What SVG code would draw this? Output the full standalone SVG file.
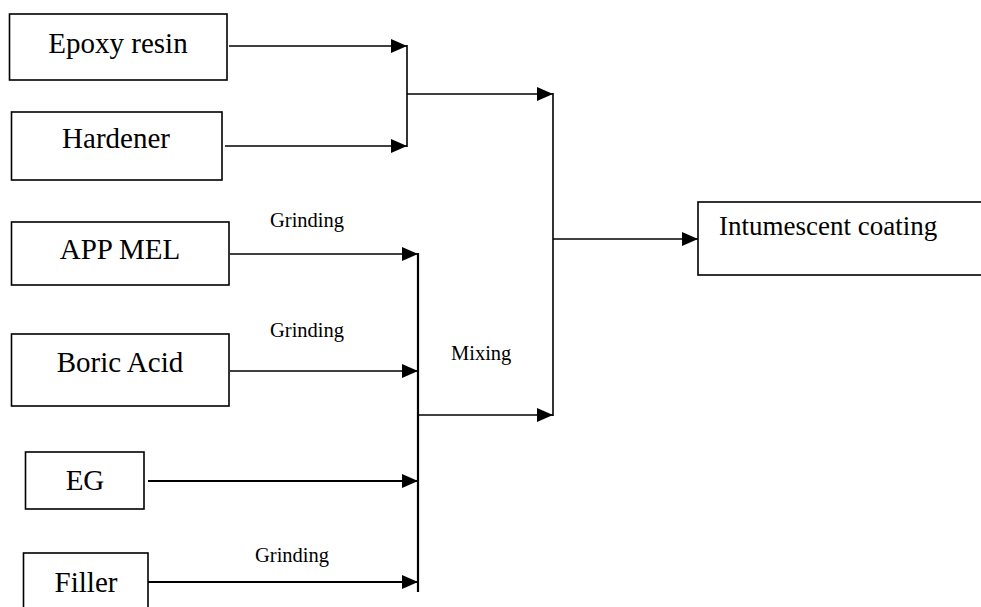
<svg xmlns="http://www.w3.org/2000/svg" width="981" height="607" viewBox="0 0 981 607">
<style>
.box{fill:#fff;stroke:#000;stroke-width:1.6}
.t{font-family:"Liberation Serif","Times New Roman",serif;font-size:29px;fill:#000}
.lbl{font-family:"Liberation Serif","Times New Roman",serif;font-size:20.5px;fill:#000}
.ln{fill:none;stroke:#000;stroke-width:1.6}
.thk{stroke-width:2.2}
</style>
<defs>
<marker id="ah" markerUnits="userSpaceOnUse" markerWidth="17" markerHeight="15" refX="16" refY="7" orient="auto">
<path d="M0,0 L16,7 L0,14 z" fill="#000"/>
</marker>
</defs>
<g id="n-epoxy"><rect class="box" x="9.5" y="14" width="217.5" height="66"/><text class="t" x="118" y="53" text-anchor="middle">Epoxy resin</text></g>
<g id="n-hardener"><rect class="box" x="11.5" y="112" width="210.5" height="68"/><text class="t" x="116" y="148" text-anchor="middle">Hardener</text></g>
<g id="n-appmel"><rect class="box" x="11.5" y="222" width="217.5" height="63"/><text class="t" x="120" y="259" text-anchor="middle">APP MEL</text></g>
<g id="n-boric"><rect class="box" x="11.5" y="334" width="217.5" height="72"/><text class="t" x="120" y="372" text-anchor="middle">Boric Acid</text></g>
<g id="n-eg"><rect class="box" x="25.5" y="452" width="118.5" height="57"/><text class="t" x="85" y="490" text-anchor="middle">EG</text></g>
<g id="n-filler"><rect class="box" x="23.5" y="553" width="124.5" height="70"/><text class="t" x="86" y="592" text-anchor="middle">Filler</text></g>
<g id="n-coating"><rect class="box" x="698" y="202" width="300" height="73"/><text class="t" x="719" y="235" style="font-size:27px">Intumescent coating</text></g>
<g id="connectors">
<line class="ln" x1="229" y1="46" x2="407" y2="46" marker-end="url(#ah)"/>
<line class="ln" x1="225" y1="146" x2="407" y2="146" marker-end="url(#ah)"/>
<line class="ln" x1="407" y1="45" x2="407" y2="147"/>
<line class="ln" x1="407" y1="94" x2="553" y2="94" marker-end="url(#ah)"/>
<line class="ln" x1="230" y1="254" x2="418" y2="254" marker-end="url(#ah)"/>
<line class="ln" x1="230" y1="371" x2="418" y2="371" marker-end="url(#ah)"/>
<line class="ln thk" x1="148" y1="481" x2="418" y2="481" marker-end="url(#ah)"/>
<line class="ln thk" x1="148" y1="582" x2="418" y2="582" marker-end="url(#ah)"/>
<line class="ln thk" x1="418" y1="253" x2="418" y2="592"/>
<line class="ln" x1="419" y1="415" x2="553" y2="415" marker-end="url(#ah)"/>
<line class="ln" x1="553" y1="93" x2="553" y2="416"/>
<line class="ln" x1="553" y1="239" x2="698" y2="239" marker-end="url(#ah)"/>
</g>
<g id="labels">
<text class="lbl" x="270" y="227">Grinding</text>
<text class="lbl" x="270" y="337">Grinding</text>
<text class="lbl" x="451" y="360">Mixing</text>
<text class="lbl" x="255" y="562">Grinding</text>
</g>
</svg>
